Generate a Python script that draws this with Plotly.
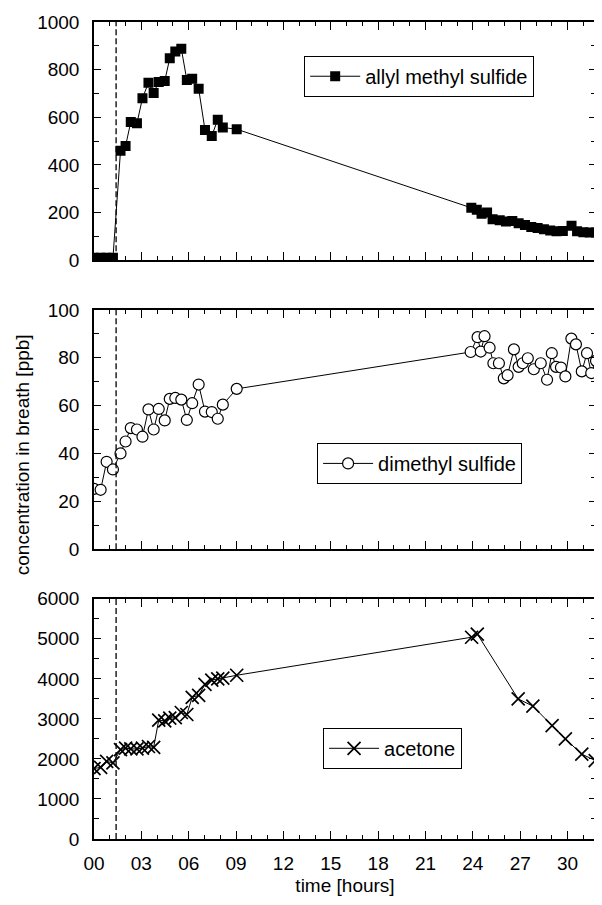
import plotly.graph_objects as go

# ---------------- data ----------------
# measurement times (hours) during the first 9 hours, shared by the three compounds
t_early = [0.0, 0.42, 0.8, 1.2, 1.68, 2.0, 2.33, 2.72, 3.07, 3.45, 3.78, 4.1,
           4.48, 4.8, 5.15, 5.53, 5.88, 6.22, 6.63, 7.03, 7.46, 7.84, 8.16, 9.04]

ams_early = [10, 10, 10, 10, 460, 480, 580, 575, 680, 745, 702, 748,
             752, 848, 876, 888, 757, 762, 720, 547, 522, 590, 557, 550]
t_ams_late = [23.9, 24.25, 24.55, 24.9, 25.25, 25.7, 26.1, 26.5, 26.9, 27.3, 27.7,
              28.1, 28.5, 28.9, 29.3, 29.7, 30.25, 30.6, 31.0, 31.4, 31.8]
ams_late = [220, 212, 195, 200, 172, 168, 163, 165, 155, 148, 140,
            135, 130, 125, 122, 123, 145, 122, 118, 116, 116]

dms_early = [25.2, 24.8, 36.5, 33.3, 40, 45, 50.6, 50, 47, 58.4, 50, 58.6,
             53.8, 62.8, 63.2, 62.5, 54, 61, 68.8, 57.5, 57.3, 54.5, 60.4, 67]
t_dms_late = [23.86, 24.3, 24.5, 24.74, 25.06, 25.3, 25.65, 25.96, 26.2, 26.6, 26.9,
              27.16, 27.48, 27.86, 28.3, 28.7, 29.0, 29.27, 29.58, 29.86, 30.24,
              30.53, 30.9, 31.23, 31.5, 31.8]
dms_late = [82.4, 88.6, 82.6, 89, 84.2, 77.7, 77.7, 71.4, 72.7, 83.5, 76.2,
            77.7, 79.8, 75.2, 77.7, 70.8, 81.9, 76.2, 75.9, 72.2, 88,
            85.6, 74.3, 81.9, 73.6, 78.7]

acetone_early = [1760, 1790, 1940, 1900, 2230, 2270, 2250, 2250, 2270, 2310, 2290, 2970,
                 2950, 3020, 3030, 3160, 3110, 3540, 3590, 3860, 3970, 4000, 4020, 4090]
t_acetone_late = [23.92, 24.28, 26.87, 27.8, 29.02, 29.86, 30.9, 31.75]
acetone_late = [5040, 5120, 3500, 3320, 2830, 2500, 2120, 1960]

dose_time = 1.4  # dashed marker line (hours)

x_tickvals = [0, 3, 6, 9, 12, 15, 18, 21, 24, 27, 30]
x_ticktext = ["00", "03", "06", "09", "12", "15", "18", "21", "24", "27", "30"]
x_range = [0, 31.8]

# ---------------- figure ----------------
FONT = "Liberation Sans, Arial, Helvetica, sans-serif"
fig = go.Figure()

fig.add_trace(go.Scatter(
    x=t_early + t_ams_late, y=ams_early + ams_late, mode="lines+markers",
    name="allyl methyl sulfide", xaxis="x", yaxis="y", legend="legend",
    line=dict(color="black", width=1),
    marker=dict(symbol="square", size=10, color="black")))

fig.add_trace(go.Scatter(
    x=t_early + t_dms_late, y=dms_early + dms_late, mode="lines+markers",
    name="dimethyl sulfide", xaxis="x2", yaxis="y2", legend="legend2",
    line=dict(color="black", width=1),
    marker=dict(symbol="circle", size=11, color="white",
                line=dict(color="black", width=1.2))))

fig.add_trace(go.Scatter(
    x=t_early + t_acetone_late, y=acetone_early + acetone_late, mode="lines+markers",
    name="acetone", xaxis="x3", yaxis="y3", legend="legend3",
    line=dict(color="black", width=1),
    marker=dict(symbol="x-thin", size=13, color="black",
                line=dict(color="black", width=1.7))))

common_x = dict(range=x_range, tickmode="array", tickvals=x_tickvals, ticktext=x_ticktext,
                ticks="inside", ticklen=8, tickwidth=1.2, tickcolor="black",
                showline=True, linecolor="black", linewidth=1.5, mirror="ticks",
                showgrid=False, zeroline=False,
                minor=dict(tickmode="linear", tick0=0, dtick=1, ticks="inside",
                           ticklen=4, tickwidth=1, tickcolor="black"),
                tickfont=dict(size=19, color="black", family=FONT))

def yax(domain, rng, dtick, mdtick):
    return dict(domain=domain, range=rng, dtick=dtick, tick0=0,
                ticks="inside", ticklen=7, tickwidth=1.2, tickcolor="black",
                showline=True, linecolor="black", linewidth=1.5, mirror="ticks",
                showgrid=False, zeroline=False, ticklabelstandoff=9,
                minor=dict(tickmode="linear", tick0=0, dtick=mdtick, ticks="inside",
                           ticklen=5, tickwidth=1, tickcolor="black"),
                tickfont=dict(size=19, color="black", family=FONT))

legend_common = dict(xanchor="left", yanchor="top", bordercolor="black", borderwidth=1,
                     bgcolor="white", font=dict(size=20, color="black", family=FONT),
                     itemwidth=50)

# page body has an 8px margin: figure is sized so the page does not scroll
fig.update_layout(
    width=594, height=889,
    margin=dict(l=86, r=4, t=14, b=52),
    paper_bgcolor="white", plot_bgcolor="white",
    font=dict(family=FONT, color="black", size=19),
    xaxis=dict(anchor="y", showticklabels=False, **common_x),
    xaxis2=dict(anchor="y2", showticklabels=False, **common_x),
    xaxis3=dict(anchor="y3", showticklabels=True, ticklabelstandoff=6,
                title=dict(text="time [hours]", font=dict(size=19, family=FONT), standoff=6),
                **common_x),
    yaxis=yax([0.7084, 1.0], [0, 1000], 200, 100),
    yaxis2=yax([0.3548, 0.6476], [0, 100], 20, 10),
    yaxis3=yax([0.0, 0.2940], [0, 6000], 1000, 500),
    legend=dict(x=0.4187, y=0.9587, **legend_common),
    legend2=dict(x=0.4444, y=0.4848, **legend_common),
    legend3=dict(x=0.4563, y=0.1361, **legend_common),
    showlegend=True,
)

for xr, yr in (("x", "y"), ("x2", "y2"), ("x3", "y3")):
    fig.add_shape(type="line", xref=xr, yref=yr + " domain", x0=dose_time, x1=dose_time,
                  y0=0, y1=1, line=dict(color="black", width=1.3, dash="6px,3px"))

fig.add_annotation(text="concentration in breath [ppb]", xref="paper", yref="paper",
                   x=-0.143, y=0.47, xanchor="center", yanchor="middle",
                   textangle=-90, showarrow=False,
                   font=dict(size=19, family=FONT, color="black"))

fig.write_html("out.html")
